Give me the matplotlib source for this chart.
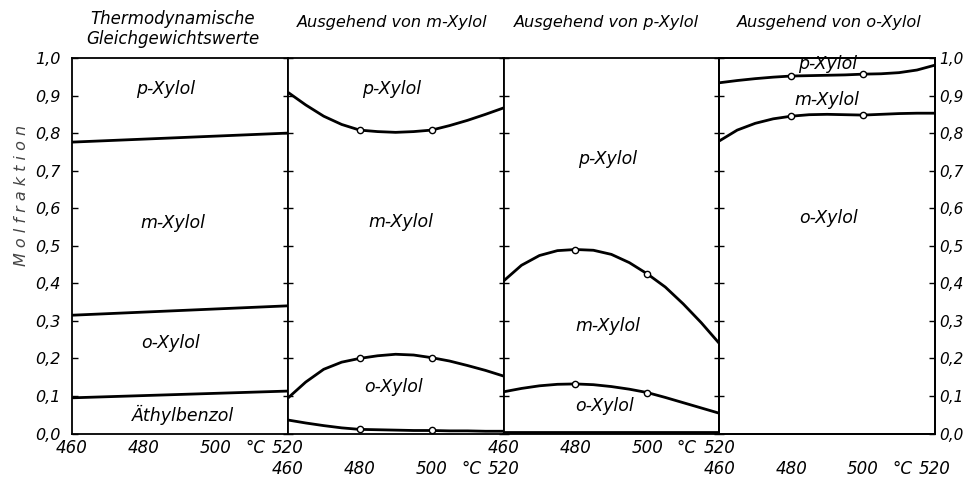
import matplotlib.pyplot as plt

temps = [460, 465, 470, 475, 480, 485, 490, 495, 500, 505, 510, 515, 520]
temps_eq = [460, 520]
marker_idx = [4, 8]  # measured points at 480 and 500 °C

# thermodynamic equilibrium values (cumulative mole fractions, boundaries)
eq_pm = [0.776, 0.800]
eq_mo = [0.315, 0.340]
eq_oe = [0.095, 0.113]

# starting from m-xylene
m_pm = [0.909, 0.875, 0.845, 0.823, 0.808, 0.804, 0.802, 0.804, 0.808, 0.820, 0.834, 0.850, 0.867]
m_mo = [0.094, 0.137, 0.171, 0.190, 0.200, 0.207, 0.211, 0.209, 0.202, 0.193, 0.181, 0.168, 0.153]
m_oe = [0.036, 0.028, 0.021, 0.015, 0.011, 0.010, 0.009, 0.008, 0.008, 0.007, 0.007, 0.006, 0.006]

# starting from p-xylene
p_pm = [0.406, 0.448, 0.474, 0.487, 0.490, 0.488, 0.477, 0.455, 0.425, 0.390, 0.345, 0.295, 0.240]
p_mo = [0.111, 0.120, 0.127, 0.131, 0.132, 0.130, 0.125, 0.118, 0.109, 0.096, 0.082, 0.068, 0.054]
p_oe = [0.003] * 13

# starting from o-xylene
o_pm = [0.934, 0.940, 0.945, 0.949, 0.952, 0.953, 0.954, 0.955, 0.957, 0.958, 0.961, 0.968, 0.981]
o_mo = [0.779, 0.808, 0.826, 0.838, 0.845, 0.849, 0.850, 0.849, 0.848, 0.850, 0.852, 0.853, 0.853]

titles = ["Thermodynamische\nGleichgewichtswerte", "Ausgehend von m-Xylol",
          "Ausgehend von p-Xylol", "Ausgehend von o-Xylol"]
title_x = [173, 392, 606, 829]

region_labels = [
    [("p-Xylol", 486, 0.917), ("m-Xylol", 488, 0.56), ("o-Xylol", 487.5, 0.24), ("Äthylbenzol", 491, 0.049)],
    [("p-Xylol", 489, 0.917), ("m-Xylol", 491.5, 0.563), ("o-Xylol", 489.5, 0.124)],
    [("p-Xylol", 489, 0.73), ("m-Xylol", 489, 0.286), ("o-Xylol", 488, 0.074)],
    [("p-Xylol", 490, 0.985), ("m-Xylol", 490, 0.888), ("o-Xylol", 490.3, 0.573)],
]

xticks = [460, 480, 500, 520]
yticks = [i / 10 for i in range(11)]
ylabels = [f"{v:.1f}".replace(".", ",") for v in yticks]

plt.rcParams['font.family'] = 'DejaVu Sans'
plt.rcParams['font.style'] = 'italic'

W, H = 968, 478
fig = plt.figure(figsize=(W / 100, H / 100), dpi=100)
left, right, bottom, top = 72 / W, 935 / W, 1 - 433.5 / H, 1 - 58 / H
pw = (right - left) / 4
axes = [fig.add_axes([left + i * pw, bottom, pw, top - bottom]) for i in range(4)]

line_kw = dict(color='black', lw=2.0, solid_capstyle='butt')
mk_kw = dict(marker='o', markersize=4.5, markerfacecolor='white', markeredgecolor='black', markeredgewidth=1.0)

axes[0].plot(temps_eq, eq_pm, **line_kw)
axes[0].plot(temps_eq, eq_mo, **line_kw)
axes[0].plot(temps_eq, eq_oe, **line_kw)

for ax, curves in zip(axes[1:], [(m_pm, m_mo, m_oe), (p_pm, p_mo, p_oe), (o_pm, o_mo)]):
    for c in curves:
        if c is p_oe:
            ax.plot(temps, c, **line_kw)
        else:
            ax.plot(temps, c, markevery=marker_idx, **line_kw, **mk_kw)

for i, ax in enumerate(axes):
    ax.set_xlim(460, 520)
    ax.set_ylim(0, 1)
    for s in ax.spines.values():
        s.set_linewidth(1.3)
    ax.set_yticks(yticks)
    ax.set_xticks(xticks)
    ax.set_xticklabels([str(t) for t in xticks], fontsize=12)
    pad = 4 if i in (0, 2) else 19
    ax.tick_params(axis='x', length=0, pad=pad)
    if i == 0:
        ax.tick_params(axis='y', direction='in', length=4, width=1, left=True, right=False, labelleft=True, pad=8)
        ax.set_yticklabels(ylabels, fontsize=11.5)
    else:
        ax.tick_params(axis='y', direction='inout', length=7, width=1, left=True, right=False, labelleft=False)
    # °C next to the 500 label
    row_y = -0.0386 if i in (0, 2) else -0.0945
    ax.text(511, row_y, "°C", transform=ax.get_xaxis_transform(), ha='center', va='center', fontsize=12)
    for txt, x, y in region_labels[i]:
        ax.text(x, y, txt, ha='center', va='center', fontsize=12.5)

# right-hand scale on the last panel
rax = axes[3].twinx()
rax.set_ylim(0, 1)
rax.set_yticks(yticks)
rax.set_yticklabels(ylabels, fontsize=11)
rax.tick_params(axis='y', direction='in', length=4, width=1, pad=3)
for s in rax.spines.values():
    s.set_linewidth(1.3)

for i, t in enumerate(titles):
    if "\n" in t:
        fig.text(title_x[i] / W, 1 - 29 / H, t, ha='center', va='center', fontsize=12, linespacing=1.15)
    else:
        fig.text(title_x[i] / W, 1 - 23 / H, t, ha='center', va='center', fontsize=11.6)

fig.text(22 / W, 1 - 195 / H, "M o l f r a k t i o n", rotation=90, ha='center', va='center',
         fontsize=11.5, color='#444444')

fig.savefig("out.png", dpi=100)
